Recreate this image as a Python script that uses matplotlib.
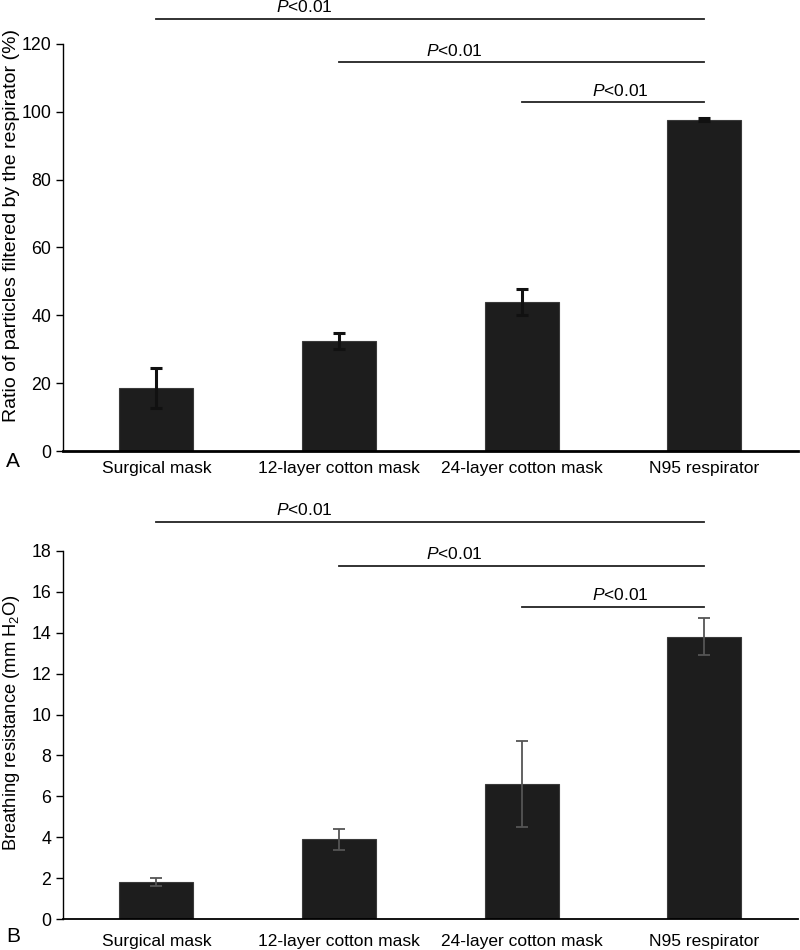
import numpy as np
import matplotlib
matplotlib.use("Agg")
import matplotlib.pyplot as plt

plt.rcParams['font.family'] = ['Liberation Sans', 'DejaVu Sans']
plt.rcParams['mathtext.fontset'] = 'custom'
plt.rcParams['mathtext.rm'] = 'Liberation Sans'
plt.rcParams['mathtext.it'] = 'Liberation Sans:italic'

masks = ['Surgical mask', '12-layer cotton mask', '24-layer cotton mask', 'N95 respirator']

# panel A: ratio of particles filtered (%)
filt_mean = [18.6, 32.4, 44.0, 97.6]
filt_err = [6.0, 2.4, 3.8, 0.5]
# panel B: breathing resistance (mm H2O)
resist_mean = [1.8, 3.9, 6.6, 13.8]
resist_err = [0.2, 0.5, 2.1, 0.9]

# significance brackets: (from, to, line y, text x, text y)
sig_a = [(0, 3, 127.4, 0.81, 128.5), (1, 3, 114.5, 1.63, 115.6), (2, 3, 102.7, 2.54, 103.8)]
sig_b = [(0, 3, 19.4, 0.81, 19.6), (1, 3, 17.25, 1.63, 17.45), (2, 3, 15.25, 2.54, 15.45)]

fig = plt.figure(figsize=(8, 9.5), dpi=100)
axA = fig.add_axes([0.079, 0.525, 0.918, 0.429])
axB = fig.add_axes([0.079, 0.0326, 0.918, 0.3874])

x = np.arange(len(masks))


def draw(ax, mean, err, ylim, step, ylabel, ylsize, ylpos, sig, ecol, elw, spw, xpad):
    ax.bar(x, mean, width=0.405, color='#1d1d1d', edgecolor='#3a3a3a', linewidth=0.8, zorder=2)
    ax.errorbar(x, mean, yerr=err, fmt='none', ecolor=ecol, elinewidth=elw,
                capsize=4, capthick=elw, zorder=3)
    ax.set_xlim(-0.51, 3.51)
    ax.set_ylim(*ylim)
    ax.set_yticks(np.arange(ylim[0], ylim[1] + step / 2, step))
    ax.set_xticks(x)
    ax.set_xticklabels(masks)
    ax.tick_params(axis='x', length=0, labelsize=12.5, pad=xpad)
    ax.tick_params(axis='y', length=5, labelsize=12.8, width=1)
    ax.set_ylabel(ylabel, fontsize=ylsize, va='center')
    ax.yaxis.set_label_coords(-0.0705, ylpos)
    for s in ['top', 'right']:
        ax.spines[s].set_visible(False)
    ax.spines['left'].set_linewidth(1)
    ax.spines['bottom'].set_linewidth(spw)
    for a, b, ly, tx, ty in sig:
        ax.plot([a, b], [ly, ly], color='#222222', lw=1.3, clip_on=False)
        ax.text(tx, ty, '$P$<0.01', ha='center', va='bottom', fontsize=12.5)


draw(axA, filt_mean, filt_err, (0, 120), 20,
     'Ratio of particles filtered by the respirator (%)', 14, 0.555,
     sig_a, '#111111', 2.2, 2, 7)
draw(axB, resist_mean, resist_err, (0, 18), 2,
     'Breathing resistance (mm H$_2$O)', 13.2, 0.535,
     sig_b, '#555555', 1.3, 1.3, 11)

fig.text(0.008, 0.514, 'A', fontsize=15, va='center')
fig.text(0.008, 0.014, 'B', fontsize=15, va='center')

fig.savefig('out.png', dpi=100, facecolor='white')
